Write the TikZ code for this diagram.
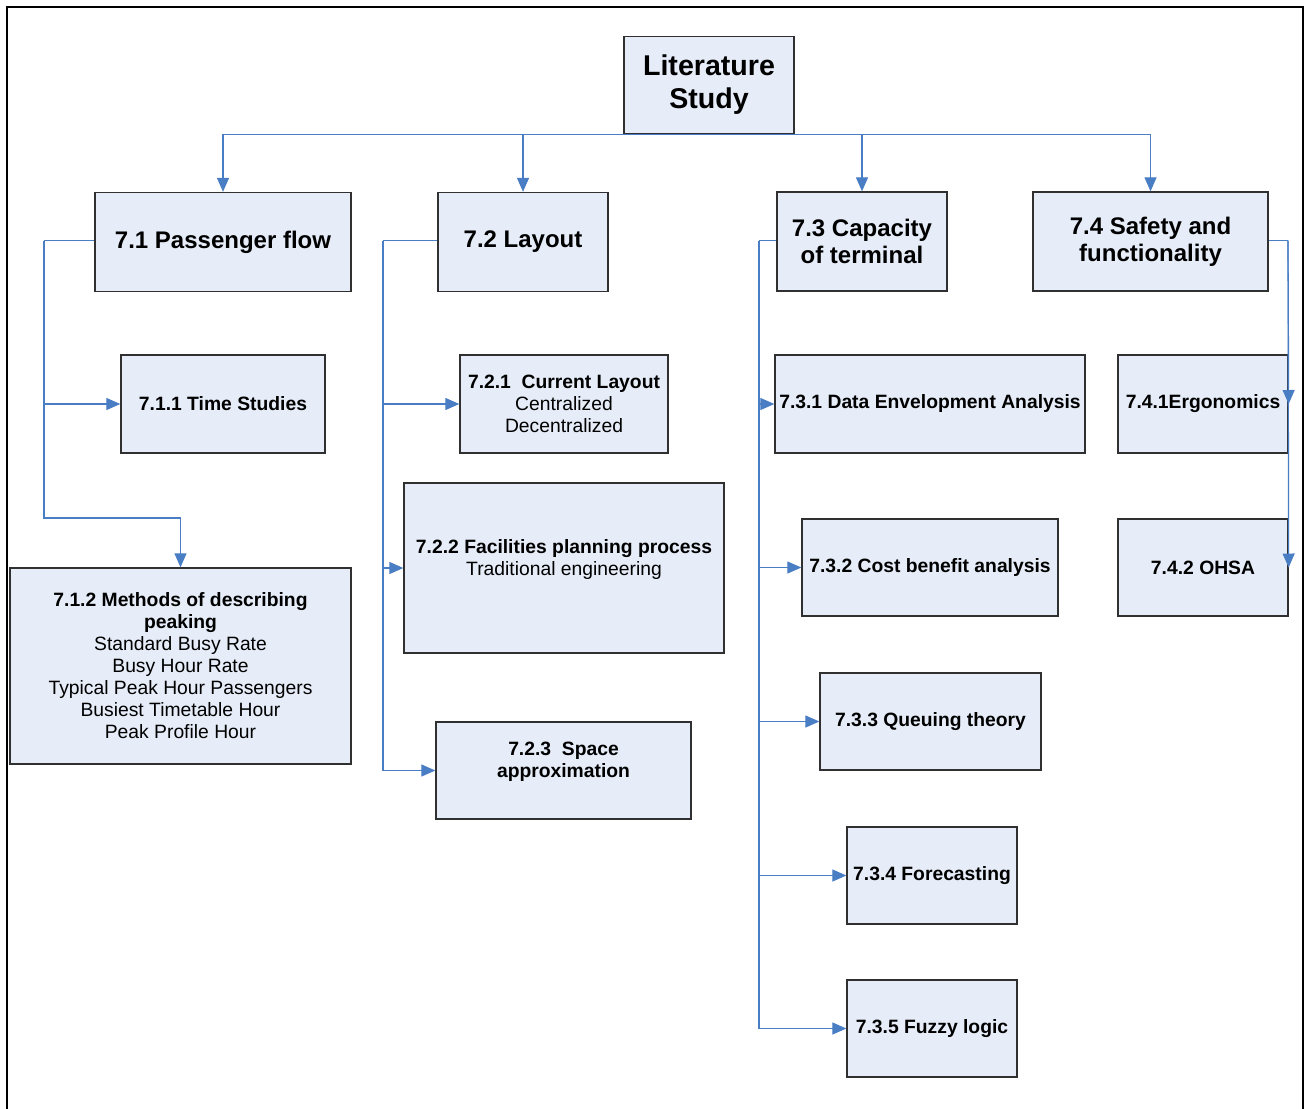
\documentclass[tikz,border=0pt]{standalone}
\usepackage{fontspec}
\setmainfont{Liberation Sans}
\usetikzlibrary{arrows.meta}
\definecolor{boxfill}{HTML}{E6EDF8}
\definecolor{linkblue}{HTML}{4A7EC4}
\definecolor{boxline}{HTML}{303030}
\begin{document}
\begin{tikzpicture} [x=1pt, y=-1pt]
    \tikzset{box/.style = {draw=boxline, fill=boxfill, line width=1.3pt, align=center, inner sep=2pt}}
    \tikzset{topbox/.style = {box, font=\fontsize{24}{27}\selectfont\bfseries, minimum height=99pt}}
    \tikzset{subbox/.style = {box, font=\fontsize{19.3}{22}\selectfont, minimum height=98pt}}
    \tikzset{link/.style = {draw=linkblue, line width=1.2pt}}
    \tikzset{arr/.style = {link, -{Triangle[length=14pt,width=12pt]}}}
    \useasboundingbox (0,0) rectangle (1308,1108);
    % outer frame
    \draw[line width=2.5pt, line cap=rect] (7,1110) -- (7,7) -- (1303,7) -- (1303,1110);
    % root
    \node[box, font=\fontsize{28.6}{33}\selectfont\bfseries, minimum width=170pt, minimum height=97pt] (lit) at (709,85) {Literature\\Study};
    % first level
    \node[topbox, minimum width=256pt] (p71) at (223,242) {7.1 Passenger flow};
    \node[topbox, minimum width=170pt] (p72) at (523,242) {7.2 Layout};
    \node[topbox, minimum width=170pt] (p73) at (862,241.5) {7.3 Capacity\\of terminal};
    \node[topbox, minimum width=235pt] (p74) at (1150.5,241.5) {7.4 Safety and\\functionality};
    % passenger flow
    \node[subbox, minimum width=204pt] (s711) at (223,404) {\textbf{7.1.1 Time Studies}};
    \node[subbox, minimum width=341pt, minimum height=196pt] (s712) at (180.5,666) {\textbf{7.1.2 Methods of describing}\\\textbf{peaking}\\Standard Busy Rate\\Busy Hour Rate\\Typical Peak Hour Passengers\\Busiest Timetable Hour\\Peak Profile Hour};
    % layout
    \node[subbox, minimum width=208pt] (s721) at (564,404) {\textbf{7.2.1~ Current Layout}\\Centralized\\Decentralized};
    \node[subbox, minimum width=320pt, minimum height=170pt] (s722) at (564,568) {\textbf{7.2.2 Facilities planning process}\\Traditional engineering\\\mbox{}};
    \node[subbox, minimum width=255pt, minimum height=97pt] (s723) at (563.5,770.5) {\textbf{7.2.3~ Space}\\\textbf{approximation}\\\mbox{}};
    % capacity of terminal
    \node[subbox, minimum width=310pt] (s731) at (930,404) {\textbf{7.3.1 Data Envelopment Analysis}};
    \node[subbox, minimum width=256pt, minimum height=97pt] (s732) at (930,567.5) {\textbf{7.3.2 Cost benefit analysis}};
    \node[subbox, minimum width=221pt, minimum height=97pt] (s733) at (930.5,721.5) {\textbf{7.3.3 Queuing theory}};
    \node[subbox, minimum width=170pt, minimum height=97pt] (s734) at (932,875.5) {\textbf{7.3.4 Forecasting}};
    \node[subbox, minimum width=170pt, minimum height=97pt] (s735) at (932,1028.5) {\textbf{7.3.5 Fuzzy logic}};
    % safety and functionality
    \node[subbox, minimum width=170pt] (s741) at (1203,404) {\textbf{7.4.1Ergonomics}};
    \node[subbox, minimum width=170pt, minimum height=97pt] (s742) at (1203,567.5) {\textbf{7.4.2 OHSA}};
    % root to first level
    \draw[arr] (lit.south) -| (p71.north);
    \draw[arr] (lit.south) -| (p72.north);
    \draw[arr] (lit.south) -| (p73.north);
    \draw[arr] (lit.south) -| (p74.north);
    % passenger flow branches
    \coordinate (t71) at (44,240.5);
    \coordinate (k712) at (44,518);
    \draw[link] (p71.west |- t71) -- (t71);
    \draw[arr] (t71) |- (s711.west);
    \draw[arr] (t71) -- (k712) -| (s712.north);
    % layout branches
    \coordinate (t72) at (383,240.5);
    \draw[link] (p72.west |- t72) -- (t72);
    \draw[arr] (t72) |- (s721.west);
    \draw[arr] (t72) |- (s722.west);
    \draw[arr] (t72) |- (s723.west);
    % capacity branches
    \coordinate (t73) at (759,240.5);
    \draw[link] (p73.west |- t73) -- (t73);
    \draw[arr] (t73) |- (s731.west);
    \draw[arr] (t73) |- (s732.west);
    \draw[arr] (t73) |- (s733.west);
    \draw[arr] (t73) |- (s734.west);
    \draw[arr] (t73) |- (s735.west);
    % safety branches
    \coordinate (t74) at (1288,240.5);
    \draw[link] (p74.east |- t74) -- (t74);
    \draw[arr] (t74) -- (s741.east);
    \draw[arr] (t74) -- (s742.east);
\end{tikzpicture}
\end{document}
